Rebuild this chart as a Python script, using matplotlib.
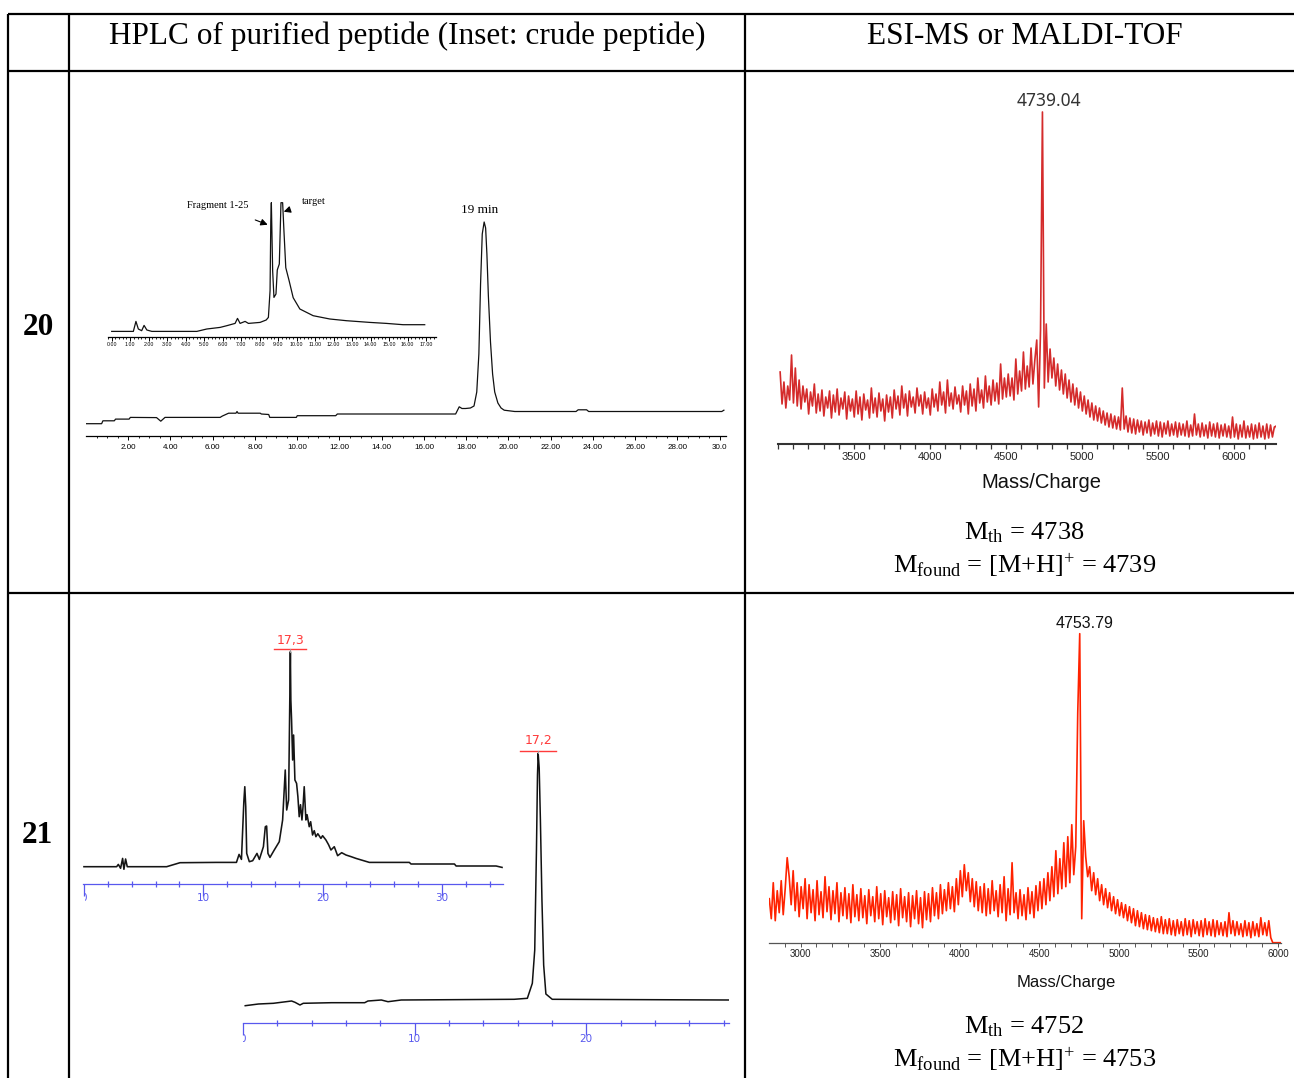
import numpy as np
import matplotlib
matplotlib.use("Agg")
import matplotlib.pyplot as plt
from matplotlib.lines import Line2D
from matplotlib.patches import Rectangle
from matplotlib.transforms import offset_copy, IdentityTransform
from matplotlib.ticker import FixedLocator
from matplotlib import font_manager

# ---------------------------------------------------------------- data
# Peptide 20, purified HPLC trace (time in min, signal relative to baseline)
hplc20_t = [0.0, 0.74, 0.8, 1.34, 1.4, 2.04, 2.1, 3.34, 3.54, 3.74, 6.35, 6.45, 6.75, 7.1,
            7.15, 7.2, 8.25, 8.3, 8.65, 8.7, 9.96, 10.0, 11.82, 11.9, 17.5, 17.67, 17.8,
            17.97, 18.2, 18.37, 18.5, 18.6, 18.68, 18.76, 18.85, 18.92, 18.98, 19.05, 19.15,
            19.25, 19.35, 19.5, 19.65, 19.8, 20.3, 23.2, 23.3, 23.7, 23.8, 30.1, 30.2]
hplc20_h = [-9.7, -9.7, -6.8, -6.8, -5.1, -5.1, -3.4, -3.6, -7.2, -3.4, -3.4, -2.1, 0.8, 0.8,
            2.5, 0.8, 0.8, 0, -0.5, -3.4, -3.4, -1.7, -1.7, 0, 0, 7.2, 5.5, 5.5, 6, 8, 22, 60,
            130, 180, 192, 186, 160, 118, 72, 40, 22, 11, 6, 3.8, 2.5, 2.5, 4.2, 4.2, 2.5,
            2.5, 3.8]
hplc20_ticks = [2, 4, 6, 8, 10, 12, 14, 16, 18, 20, 22, 24, 26, 28, 30]
hplc20_ticklabels = ["2.00", "4.00", "6.00", "8.00", "10.00", "12.00", "14.00", "16.00",
                     "18.00", "20.00", "22.00", "24.00", "26.00", "28.00", "30.0"]

# Peptide 20, crude HPLC trace (inset)
crude20_t = [0, 1.17, 1.31, 1.44, 1.62, 1.75, 1.9, 2.17, 4.6, 5.14, 5.86, 6.22, 6.67, 6.8,
             6.94, 7.21, 7.39, 8.02, 8.35, 8.47, 8.56, 8.6, 8.63, 8.7, 8.77, 8.88, 8.95,
             9.06, 9.15, 9.24, 9.31, 9.41, 9.59, 9.81, 10.17, 10.89, 11.79, 12.69, 13.95,
             14.85, 15.75, 16.92]
crude20_h = [-0.7, -0.7, 9.3, 1.7, 0, 5.3, 0.7, -0.7, -0.7, 1.7, 3.3, 5, 7.3, 12.3, 7.3,
             9.3, 7.3, 8.3, 10.7, 13.3, 40, 110, 128, 60, 33.3, 36.7, 60.7, 66.7, 128, 128,
             100, 63, 50, 33, 21.7, 15, 11.7, 10, 8.3, 7.3, 6, 6]
crude20_ticks = list(range(0, 18))
crude20_ticklabels = ["%d.00" % v for v in crude20_ticks]

# Peptide 20, mass spectrum (uniform m/z sampling)
ms20_start, ms20_step = 3014.04, 12.5
ms20_int = [72, 40, 62, 36, 58, 44, 89, 41, 76, 38,
            64, 35, 58, 42, 55, 30, 52, 38, 60, 31,
            50, 33, 54, 28, 47, 36, 53, 26, 49, 32,
            55, 29, 46, 35, 52, 25, 48, 33, 45, 27,
            53, 30, 47, 24, 50, 34, 44, 26, 56, 31,
            46, 27, 51, 33, 45, 23, 49, 32, 47, 26,
            54, 35, 48, 29, 58, 36, 50, 28, 53, 37,
            47, 31, 56, 38, 49, 30, 52, 36, 46, 29,
            55, 37, 50, 33, 62, 39, 52, 31, 64, 38,
            51, 35, 57, 40, 49, 32, 58, 39, 53, 30,
            60, 38, 55, 33, 66, 41, 54, 36, 68, 42,
            58, 39, 64, 43, 61, 40, 80, 45, 66, 47,
            70, 48, 66, 44, 85, 50, 73, 53, 92, 55,
            78, 57, 96, 60, 84, 104, 37, 114,
            332,
            56, 120, 62, 95, 66, 86, 58, 80, 54, 74, 50,
            70, 46, 64, 42, 60, 39, 56, 36, 52, 33,
            48, 30, 44, 27, 41, 24, 38, 23, 36, 21,
            33, 19, 31, 17, 30, 16, 28, 15, 27, 14,
            56, 15, 28, 12, 26, 11, 25, 10, 24, 12,
            23, 9, 22, 11, 24, 8, 21, 10, 23, 8,
            22, 7, 21, 10, 23, 8, 20, 9, 22, 7,
            21, 9, 20, 8, 23, 7, 19, 8, 30, 9,
            20, 7, 21, 8, 19, 6, 22, 8, 20, 7,
            21, 6, 19, 8, 20, 7, 18, 6, 27, 7,
            20, 5, 19, 7, 23, 6, 18, 7, 20, 5,
            19, 6, 21, 7, 18, 5, 20, 6, 19, 7, 17, 18, 8]
ms20_ticks = [3500, 4000, 4500, 5000, 5500, 6000]
ms20_ticklabels = ["3500", "4000", "4500", "5000", "5500", "6000"]

# Peptide 21, purified HPLC trace
hplc21_t = [0.13, 0.9, 1.77, 2.83, 3.03, 3.32, 3.51, 5.16, 7.09, 7.28, 8.06, 8.45, 9.22,
            15.8, 16.57, 16.86, 17.0, 17.1, 17.16, 17.2, 17.26, 17.33, 17.42, 17.52, 17.65,
            18.02, 28.37]
hplc21_h = [-5.7, -4, -3.3, -1, -2.3, -5, -3.3, -2.7, -2.7, -1, 0, -1.7, 0, 0.7, 1.7, 16.7,
            50, 150, 225, 246.7, 232, 180, 100, 35, 6, 0.7, 0]
hplc21_ticks = [0, 10, 20]
hplc21_ticklabels = ["0", "10", "20"]

# Peptide 21, crude HPLC trace (inset)
crude21_t = [0, 2.74, 2.88, 3.07, 3.24, 3.35, 3.49, 3.63, 6.93, 8.05, 11.1, 12.78, 13.0,
             13.2, 13.4, 13.48, 13.56, 13.64, 13.86, 14.14, 14.5, 14.7, 15.04, 15.2, 15.31,
             15.42, 15.59, 15.95, 16.37, 16.65, 16.87, 16.99, 17.15, 17.3, 17.34, 17.4,
             17.49, 17.57, 17.68, 17.82, 17.93, 18.04, 18.15, 18.27, 18.36, 18.46, 18.6,
             18.7, 18.88, 19.0, 19.16, 19.3, 19.44, 19.6, 19.86, 20.0, 20.28, 20.5, 20.7,
             20.98, 21.26, 21.6, 21.96, 22.4, 22.8, 23.92, 27.27, 27.41, 31.05, 31.19,
             34.54, 35.04]
crude21_h = [0, 0, 2.3, -1.6, 8.3, -2.6, 7.7, 0, 0, 4, 4.3, 4.3, 12.3, 7.3, 65, 80, 60,
             13.3, 5, 6, 13.3, 7.3, 20, 40, 40.7, 13.3, 9.3, 16.7, 25, 46.7, 96.7, 56.7,
             66.7, 215, 166.7, 146.7, 106.7, 131.7, 86.7, 83.3, 70, 50, 62, 46.7, 60, 80,
             46.7, 52, 40, 45, 31.7, 36, 30, 33, 28.3, 31, 26.7, 22, 16.7, 20, 11, 14,
             11.7, 10, 8.3, 4.3, 4.3, 2.7, 2.7, 0.7, 0.7, -0.7]
crude21_ticks = [0, 10, 20, 30]
crude21_ticklabels = ["0", "10", "20", "30"]

# Peptide 21, mass spectrum (uniform m/z sampling)
ms21_start, ms21_step = 2803.79, 12.5
ms21_int = [44, 24, 60, 22, 52, 30, 62, 28, 54, 85,
            66, 38, 72, 32, 60, 26, 56, 34, 64, 24,
            58, 30, 53, 22, 62, 28, 51, 25, 66, 31,
            56, 23, 52, 29, 60, 21, 50, 27, 55, 24,
            49, 20, 58, 26, 48, 22, 54, 25, 47, 19,
            53, 27, 46, 21, 56, 24, 49, 18, 52, 26,
            45, 20, 51, 23, 48, 17, 54, 25, 46, 21,
            50, 16, 47, 24, 52, 19, 45, 15, 51, 23,
            49, 21, 55, 27, 50, 24, 58, 29, 53, 32,
            60, 34, 56, 31, 64, 38, 72, 46, 78, 52,
            70, 41, 64, 36, 61, 32, 56, 30, 59, 27,
            54, 29, 62, 32, 52, 26, 58, 30, 66, 22,
            54, 28, 80, 30, 50, 24, 53, 27, 48, 23,
            55, 29, 51, 25, 57, 32, 61, 34, 64, 38,
            70, 42, 76, 46, 92, 49, 84, 54, 100, 56,
            106, 60, 118, 68, 96, 230,
            309,
            24, 122, 86,
            66, 76, 52, 70, 48, 64, 42, 58, 38, 54,
            35, 50, 32, 46, 29, 43, 27, 40, 25, 38,
            22, 36, 20, 34, 17, 32, 16, 30, 14, 28,
            13, 27, 12, 25, 11, 24, 10, 26, 9, 23,
            9, 24, 8, 22, 7, 23, 9, 21, 7, 24,
            8, 22, 6, 23, 9, 21, 7, 22, 6, 24,
            8, 21, 7, 23, 6, 22, 8, 20, 7, 21,
            6, 30, 9, 22, 7, 21, 8, 19, 6, 22,
            7, 20, 5, 21, 7, 19, 6, 25, 8, 20,
            7, 22, 5, 0, 0, 0, 0, 0]
ms21_ticks = [3000, 3500, 4000, 4500, 5000, 5500, 6000]
ms21_ticklabels = ["3000", "3500", "4000", "4500", "5000", "5500", "6000"]

# Table text
row_labels = ["20", "21"]
mass_theoretical = [4738, 4752]
mass_found = [4739, 4753]
header_left = "HPLC of purified peptide (Inset: crude peptide)"
header_right = "ESI-MS or MALDI-TOF"

# ---------------------------------------------------------------- styling
W, H = 1294, 1078
installed = {f.name for f in font_manager.fontManager.ttflist}


def pick(*names):
    for n in names:
        if n in installed:
            return n
    return "DejaVu Sans"


SERIF = pick("Liberation Serif", "DejaVu Serif")
NARROW = pick("Liberation Sans Narrow", "Liberation Sans")
IS_NARROW = NARROW == "Liberation Sans Narrow"
SANS = pick("Liberation Sans", "DejaVu Sans")
UI = pick("Noto Sans", "Open Sans", "DejaVu Sans")

plt.rcParams["mathtext.fontset"] = "custom"
plt.rcParams["mathtext.rm"] = SERIF
plt.rcParams["mathtext.it"] = SERIF + ":italic"
plt.rcParams["mathtext.bf"] = SERIF + ":bold"

RED20 = "#d42b2b"
RED21 = "#ff2200"
BLUE = "#5858ee"
LABEL_RED = "#ff3b3b"
PX = 72.0 / 100.0  # points per pixel

fig = plt.figure(figsize=(W / 100, H / 100), dpi=100)
fig.patch.set_facecolor("white")


def fx(x):
    return x / W


def fy(y):
    return 1 - y / H


def ftext(x, y, s, **kw):
    return fig.text(fx(x), fy(y), s, **kw)


def px_axes(x0, y0, x1, y1):
    ax = fig.add_axes([fx(x0), fy(y1), (x1 - x0) / W, (y1 - y0) / H])
    ax.set_facecolor("none")
    for s in ("left", "right", "top"):
        ax.spines[s].set_visible(False)
    ax.set_yticks([])
    return ax


# ---------------------------------------------------------------- table grid
for y in (14, 71, 593):
    fig.add_artist(Line2D([fx(8), fx(1294)], [fy(y), fy(y)], color="black", lw=1.6,
                          solid_capstyle="butt"))
for x in (8, 69, 745):
    fig.add_artist(Line2D([fx(x), fx(x)], [fy(14), fy(1078)], color="black", lw=1.6,
                          solid_capstyle="butt"))

ftext(407, 44, header_left, ha="center", va="baseline", fontsize=22.5, family=SERIF)
ftext(1025, 44, header_right, ha="center", va="baseline", fontsize=22.5, family=SERIF)
ftext(38, 335, row_labels[0], ha="center", va="baseline", fontsize=22.5, family=SERIF,
      fontweight="bold")
ftext(37, 843, row_labels[1], ha="center", va="baseline", fontsize=22.5, family=SERIF,
      fontweight="bold")

for base, mth, mfd in ((539, mass_theoretical[0], mass_found[0]),
                       (1033, mass_theoretical[1], mass_found[1])):
    ftext(1024, base, r"M$_{\mathrm{th}}$ = %d" % mth, ha="center", va="baseline",
          fontsize=19, family=SERIF)
    ftext(1025, base + 34, r"M$_{\mathrm{found}}$ = [M+H]$^{+}$ = %d" % mfd, ha="center",
          va="baseline", fontsize=19, family=SERIF)

# ---------------------------------------------------------------- peptide 20 HPLC
ax = px_axes(86, 200, 726, 436)
ax.plot(hplc20_t, hplc20_h, color="#111111", lw=0.9)
ax.set_xlim(0.0, 30.3)
ax.set_ylim(-22, 214)
ax.spines["bottom"].set_linewidth(0.9)
ax.set_xticks(hplc20_ticks)
ax.set_xticklabels(hplc20_ticklabels, fontsize=5.8, family=SANS)
ax.xaxis.set_minor_locator(FixedLocator(np.arange(0.5, 30.3, 0.5)))
ax.tick_params(axis="x", which="major", length=4 * PX, width=0.7, pad=4 * PX)
ax.tick_params(axis="x", which="minor", length=2.5 * PX, width=0.6)
i20 = int(np.argmax(hplc20_h))
ax.annotate("%d min" % round(hplc20_t[i20]), (hplc20_t[i20], hplc20_h[i20]),
            xytext=(-5, 12), textcoords="offset pixels", ha="center", va="center",
            fontsize=9.5, family=SERIF, annotation_clip=False)

# crude inset
ax = px_axes(108, 200.7, 436, 337)
ax.plot(crude20_t, crude20_h, color="#111111", lw=0.9)
ax.set_xlim(-0.2, 17.53)
ax.set_ylim(-6.3, 130)
ax.spines["bottom"].set_linewidth(0.9)
ax.set_xticks(crude20_ticks)
ax.set_xticklabels(crude20_ticklabels, fontsize=3.8, family=SANS)
ax.xaxis.set_minor_locator(FixedLocator(np.arange(-0.2, 17.5, 0.2)))
ax.tick_params(axis="x", which="major", length=3.5 * PX, width=0.7, pad=2 * PX)
ax.tick_params(axis="x", which="minor", length=2.5 * PX, width=0.6)
arrow_kw = dict(arrowstyle="-|>", color="black", lw=0.8, mutation_scale=10, shrinkB=0)
ax.annotate("Fragment 1-25", xy=(8.43, 106), xytext=(5.75, 125), textcoords="data",
            ha="center", va="center", fontsize=7.5, family=SERIF, annotation_clip=False,
            arrowprops=dict(arrow_kw, shrinkA=14))
ax.annotate("target", xy=(9.3, 119), xytext=(10.9, 129), textcoords="data",
            ha="center", va="center", fontsize=7.5, family=SERIF, annotation_clip=False,
            arrowprops=dict(arrow_kw, shrinkA=9))

# ---------------------------------------------------------------- peptide 20 MS
ax = px_axes(778, 100, 1276, 444)
ms20_mz = ms20_start + ms20_step * np.arange(len(ms20_int))
ax.plot(ms20_mz, ms20_int, color=RED20, lw=1.2)
ax.set_xlim(3000, 6275)
ax.set_ylim(0, 344)
ax.spines["bottom"].set_linewidth(1.5)
ax.spines["bottom"].set_color("#333333")
ax.set_xticks(ms20_ticks)
ax.set_xticklabels(ms20_ticklabels, fontsize=9 if IS_NARROW else 8, family=NARROW,
                   color="#222222")
ax.xaxis.set_minor_locator(FixedLocator(np.arange(3000, 6300, 100)))
ax.tick_params(axis="x", which="both", length=5 * PX, width=0.9, color="#333333")
ax.tick_params(axis="x", which="major", pad=3 * PX)
k = int(np.argmax(ms20_int))
ax.annotate("%.2f" % ms20_mz[k], (ms20_mz[k], ms20_int[k]), xytext=(6, 11),
            textcoords="offset pixels", ha="center", va="center", fontsize=12.5,
            family=UI, color="#333333", annotation_clip=False)
ftext(1041, 482, "Mass/Charge", ha="center", va="center",
      fontsize=17 if IS_NARROW else 14.5, family=NARROW, color="#111111")

# ---------------------------------------------------------------- peptide 21 HPLC


def blue_axis(ax, ticks, labels, minor, left_px, label_dy):
    ax.spines["bottom"].set_color(BLUE)
    ax.spines["bottom"].set_linewidth(0.9)
    ax.set_xticks(ticks)
    ax.set_xticklabels([])
    ax.xaxis.set_minor_locator(FixedLocator(minor))
    ax.tick_params(axis="x", which="major", length=12 * PX, width=0.9, color=BLUE,
                   direction="out")
    ax.tick_params(axis="x", which="minor", length=6 * PX, width=0.9, color=BLUE,
                   direction="inout")
    trans = offset_copy(ax.get_xaxis_transform(), fig=fig, y=-label_dy, units="dots")
    clip = Rectangle((left_px, 0), W, H, transform=IdentityTransform())
    for p, lab in zip(ticks, labels):
        t = ax.text(p, 0, lab, transform=trans, ha="center", va="center", fontsize=7.5,
                    color=BLUE, family="DejaVu Sans")
        t.set_clip_path(clip)
        t.set_clip_on(True)


def retention_label(ax, t, h, px_per_min, bar_half_px, text_dy):
    bar_h = h + 2.5
    half = bar_half_px / px_per_min
    ax.plot([t - half, t + half], [bar_h, bar_h], color=LABEL_RED, lw=1.0, clip_on=False)
    ax.plot([t, t], [h, bar_h], color="#999999", lw=0.8, clip_on=False)
    ax.annotate(("%.1f" % t).replace(".", ","), (t, h), xytext=(0, text_dy),
                textcoords="offset pixels", ha="center", va="center", color=LABEL_RED,
                fontsize=9, family="DejaVu Sans", annotation_clip=False)


# crude inset
ax = px_axes(83, 640, 503, 884)
ax.plot(crude21_t, crude21_h, color="#151515", lw=1.15)
ax.set_xlim(-0.08, 35.12)
ax.set_ylim(-17.3, 226.7)
blue_axis(ax, crude21_ticks, crude21_ticklabels,
          [v for v in range(2, 36, 2) if v % 10], 85, 14)
j = int(np.argmax(crude21_h))
retention_label(ax, crude21_t[j], crude21_h[j], 11.93, 16, 11)

# purified
ax = px_axes(243, 735, 729, 1022.7)
ax.plot(hplc21_t, hplc21_h, color="#111111", lw=1.1)
ax.set_xlim(0.116, 28.32)
ax.set_ylim(-22.7, 265)
blue_axis(ax, hplc21_ticks, hplc21_ticklabels,
          [v for v in range(2, 29, 2) if v % 10], 243, 16)
j = int(np.argmax(hplc21_h))
retention_label(ax, hplc21_t[j], hplc21_h[j], 17.23, 18, 12.5)

# ---------------------------------------------------------------- peptide 21 MS
ax = px_axes(769, 620, 1281, 942.7)
ms21_mz = ms21_start + ms21_step * np.arange(len(ms21_int))
ax.plot(ms21_mz, ms21_int, color=RED21, lw=1.2)
ax.set_xlim(2802, 6018)
ax.set_ylim(0, 322.7)
ax.spines["bottom"].set_linewidth(0.9)
ax.spines["bottom"].set_color("#555555")
ax.set_xticks(ms21_ticks)
ax.set_xticklabels(ms21_ticklabels, fontsize=7.3 if IS_NARROW else 7, family=NARROW,
                   color="#222222")
ax.xaxis.set_minor_locator(FixedLocator(np.arange(2900, 6020, 100)))
ax.tick_params(axis="x", which="both", length=3.5 * PX, width=0.7, color="#555555")
ax.tick_params(axis="x", which="major", pad=3 * PX)
k = int(np.argmax(ms21_int))
ax.annotate("%.2f" % ms21_mz[k], (ms21_mz[k], ms21_int[k]), xytext=(5, 10.5),
            textcoords="offset pixels", ha="center", va="center",
            fontsize=11.5, family=NARROW, color="#111111",
            annotation_clip=False)
ftext(1066, 982, "Mass/Charge", ha="center", va="center",
      fontsize=13.5 if IS_NARROW else 12, family=NARROW, color="#111111")

fig.savefig("out.png", dpi=100, facecolor="white")
